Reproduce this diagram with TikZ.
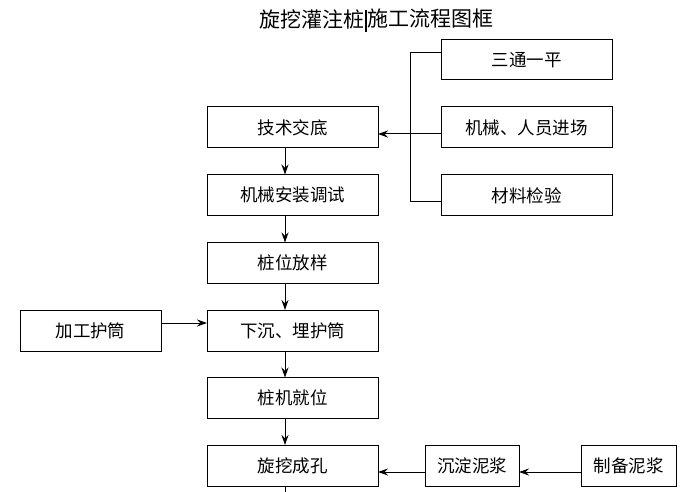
\documentclass[tikz,border=0pt]{standalone}
\usepackage{fontspec}
\newfontfamily\cjk{Noto Sans CJK SC}
\usetikzlibrary{arrows.meta}
\begin{document}
\begin{tikzpicture}[x=1pt,y=-1pt,
  box/.style={draw,line width=1pt,inner sep=0pt,outer sep=0pt,minimum height=41pt,font=\cjk\fontsize{17.5}{20}\selectfont},
  ttl/.style={inner sep=0pt,font=\cjk\fontsize{21}{24}\selectfont},
  conn/.style={line width=1pt},
  arr/.style={line width=1pt,-{Stealth[length=10pt,width=7pt,inset=3.5pt]}}]
\useasboundingbox (0,0) rectangle (686,492);
\node[ttl,anchor=east] (titleA) at (364.5,19) {旋挖灌注桩};
\node[ttl,anchor=west] (titleB) at (367.5,19) {施工流程图框};
\draw[line width=2pt] (366,10) -- (366,32);
% main column
\node[box,minimum width=171pt] (n1) at (292.5,127.5) {技术交底};
\node[box,minimum width=171pt] (n2) at (292.5,195) {机械安装调试};
\node[box,minimum width=171pt] (n3) at (292.5,263) {桩位放样};
\node[box,minimum width=171pt] (n4) at (292.5,330.5) {下沉、埋护筒};
\node[box,minimum width=171pt] (n5) at (292.5,398) {桩机就位};
\node[box,minimum width=171pt] (n6) at (292.5,465.5) {旋挖成孔};
% right group
\node[box,minimum width=171pt,minimum height=40pt] (r1) at (526.5,60) {三通一平};
\node[box,minimum width=171pt] (r2) at (526.5,127.5) {机械、人员进场};
\node[box,minimum width=171pt] (r3) at (526.5,195.5) {材料检验};
% left
\node[box,minimum width=141pt] (l1) at (90.5,330.5) {加工护筒};
% bottom right
\node[box,minimum width=94pt] (m1) at (472,465.5) {沉淀泥浆};
\node[box,minimum width=95pt] (m2) at (628.5,465.5) {制备泥浆};
\coordinate (bend) at (285,492);
% vertical arrows
\foreach \a/\b in {n1/n2,n2/n3,n3/n4,n4/n5,n5/n6}
  \draw[arr] ([xshift=-7.5pt]\a.south) -- ([xshift=-7.5pt]\b.north);
\draw[conn] ([xshift=-7.5pt]n6.south) -- (bend);
% bracket
\draw[conn] ([yshift=7pt]r1.west) -- ++(-31,0) |- ([yshift=-6.5pt]r3.west);
\draw[arr] ([yshift=-6.5pt]r2.west) -- ([yshift=-6.5pt]n1.east);
% left arrow
\draw[arr] ([yshift=7.5pt]l1.east) -- ([yshift=7.5pt]n4.west);
% bottom arrows
\draw[arr] ([yshift=-6.5pt]m2.west) -- ([yshift=-6.5pt]m1.east);
\draw[arr] ([yshift=-6.5pt]m1.west) -- ([yshift=-6.5pt]n6.east);
\end{tikzpicture}
\end{document}
